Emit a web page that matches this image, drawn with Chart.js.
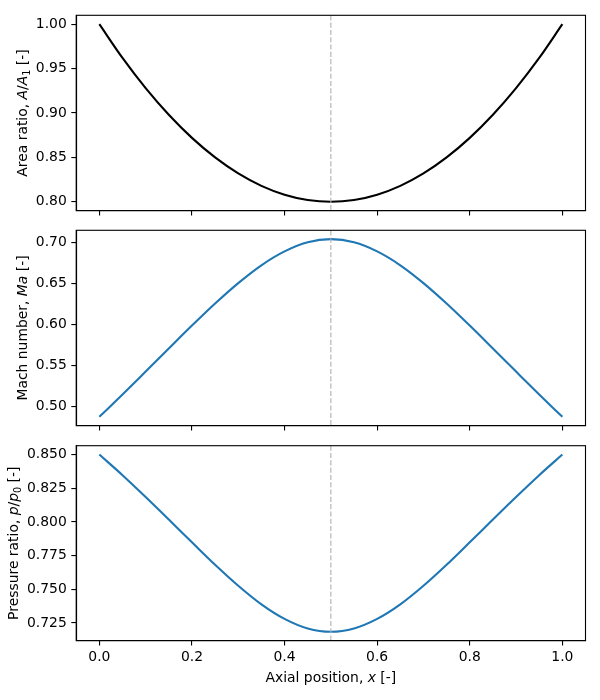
<!DOCTYPE html>
<html>
<head>
<meta charset="utf-8">
<script src="https://cdn.jsdelivr.net/npm/chart.js@4.4.1/dist/chart.umd.min.js"></script>
<style>
  html, body { margin: 0; padding: 0; background: #fff; }
  #wrap { position: relative; width: 600px; height: 700px; }
  #wrap canvas { position: absolute; left: 0; top: 0; }
</style>
</head>
<body>
<div id="wrap">
  <canvas id="area" width="600" height="700"></canvas>
  <canvas id="mach" width="600" height="700"></canvas>
  <canvas id="pres" width="600" height="700"></canvas>
</div>
<script>
// ---- data ----
const xPos = [0.00, 0.05, 0.10, 0.15, 0.20, 0.25, 0.30, 0.35, 0.40, 0.45, 0.50,
              0.55, 0.60, 0.65, 0.70, 0.75, 0.80, 0.85, 0.90, 0.95, 1.00];
const areaRatio = [1.000, 0.962, 0.928, 0.898, 0.872, 0.850, 0.832, 0.818, 0.808, 0.802, 0.800,
                   0.802, 0.808, 0.818, 0.832, 0.850, 0.872, 0.898, 0.928, 0.962, 1.000];
const machNumber = [0.4875, 0.5147, 0.5426, 0.5707, 0.5986, 0.6255, 0.6504, 0.6721, 0.6890, 0.7001, 0.7039,
                    0.7001, 0.6890, 0.6721, 0.6504, 0.6255, 0.5986, 0.5707, 0.5426, 0.5147, 0.4875];
const pressureRatio = [0.8500, 0.8347, 0.8185, 0.8018, 0.7849, 0.7682, 0.7526, 0.7388, 0.7280, 0.7209, 0.7184,
                       0.7209, 0.7280, 0.7388, 0.7526, 0.7682, 0.7849, 0.8018, 0.8185, 0.8347, 0.8500];
const throatX = 0.5;

const xTicks = [0.0, 0.2, 0.4, 0.6, 0.8, 1.0];
const areaTicks = [0.80, 0.85, 0.90, 0.95, 1.00];
const machTicks = [0.50, 0.55, 0.60, 0.65, 0.70];
const presTicks = [0.725, 0.750, 0.775, 0.800, 0.825, 0.850];

const FONT = 'DejaVu Sans';
const FS = 13.9;

// draws a label made of runs: {t: text, it: italic, sub: subscript}
function drawRuns(ctx, runs, cx, cy, rotated) {
  ctx.save();
  ctx.translate(cx, cy);
  if (rotated) ctx.rotate(-Math.PI / 2);
  ctx.fillStyle = '#000';
  ctx.textBaseline = 'alphabetic';
  ctx.textAlign = 'left';
  const fontOf = r => (r.it ? 'italic ' : '') + (r.sub ? FS * 0.7 : FS) + 'px "' + FONT + '"';
  let total = 0;
  runs.forEach(r => { ctx.font = fontOf(r); total += ctx.measureText(r.t).width; });
  let x = -total / 2;
  const base = FS * 0.36;
  runs.forEach(r => {
    ctx.font = fontOf(r);
    ctx.fillText(r.t, x, base + (r.sub ? FS * 0.2 : 0));
    x += ctx.measureText(r.t).width;
  });
  ctx.restore();
}

// frame, throat marker and axis titles
const framePlugin = {
  id: 'frame',
  afterDatasetsDraw(chart, args, opts) {
    const { ctx, chartArea: a } = chart;
    const px = chart.scales.x.getPixelForValue(throatX);
    ctx.save();
    ctx.strokeStyle = '#b0b0b0';
    ctx.lineWidth = 1.1;
    ctx.setLineDash([5.1, 2.2]);
    ctx.beginPath();
    ctx.moveTo(px, a.top);
    ctx.lineTo(px, a.bottom);
    ctx.stroke();
    ctx.setLineDash([]);
    ctx.strokeStyle = '#000';
    ctx.lineWidth = 1.1;
    ctx.strokeRect(a.left, a.top, a.right - a.left, a.bottom - a.top);
    ctx.restore();
    drawRuns(ctx, opts.yTitle, opts.yTitleX, (a.top + a.bottom) / 2, true);
    if (opts.xTitle) drawRuns(ctx, opts.xTitle, (a.left + a.right) / 2, 676.5, false);
  }
};

function panel(id, values, color, yMin, yMax, yTicks, digits, top, bottom, showX, yTitle, yTitleX, xTitle) {
  new Chart(document.getElementById(id), {
    type: 'line',
    data: {
      datasets: [{
        data: xPos.map((x, i) => ({ x: x, y: values[i] })),
        borderColor: color,
        borderWidth: 2.1,
        pointRadius: 0,
        fill: false,
        cubicInterpolationMode: 'monotone'
      }]
    },
    options: {
      responsive: false,
      animation: false,
      events: [],
      layout: { padding: { top: top, right: 14.5, left: 0, bottom: 0 } },
      plugins: {
        legend: { display: false },
        tooltip: { enabled: false },
        frame: { yTitle: yTitle, yTitleX: yTitleX, xTitle: xTitle }
      },
      scales: {
        x: {
          type: 'linear',
          min: -0.05,
          max: 1.05,
          afterBuildTicks: s => { s.ticks = xTicks.map(v => ({ value: v })); },
          afterFit: s => { s.height = 700 - bottom; },
          grid: { drawOnChartArea: false, drawTicks: true, tickLength: 4.9, color: '#000', lineWidth: 1.1 },
          border: { display: true, color: '#000', width: 1.1 },
          ticks: {
            display: showX,
            padding: 3,
            maxRotation: 0,
            color: '#000',
            font: { family: FONT, size: FS },
            callback: v => v.toFixed(1)
          }
        },
        y: {
          type: 'linear',
          min: yMin,
          max: yMax,
          afterBuildTicks: s => { s.ticks = yTicks.map(v => ({ value: v })); },
          afterFit: s => { s.width = 76.2; },
          grid: { drawOnChartArea: false, drawTicks: true, tickLength: 4.9, color: '#000', lineWidth: 1.1 },
          border: { display: true, color: '#000', width: 1.1 },
          ticks: {
            padding: 4.5,
            color: '#000',
            font: { family: FONT, size: FS },
            callback: v => v.toFixed(digits)
          }
        }
      }
    },
    plugins: [framePlugin]
  });
}

panel('area', areaRatio, '#000000', 0.79, 1.01, areaTicks, 2, 15.3, 210.7, false,
  [{ t: 'Area ratio, ' }, { t: 'A', it: true }, { t: '/' }, { t: 'A', it: true }, { t: '1', sub: true }, { t: ' [-]' }],
  22, null);

panel('mach', machNumber, '#1f77b4', 0.4767, 0.7147, machTicks, 2, 230.3, 425.7, false,
  [{ t: 'Mach number, ' }, { t: 'Ma', it: true }, { t: ' [-]' }],
  22, null);

panel('pres', pressureRatio, '#1f77b4', 0.7118, 0.8566, presTicks, 3, 445.7, 640.7, true,
  [{ t: 'Pressure ratio, ' }, { t: 'p', it: true }, { t: '/' }, { t: 'p', it: true }, { t: '0', sub: true }, { t: ' [-]' }],
  13, [{ t: 'Axial position, ' }, { t: 'x', it: true }, { t: ' [-]' }]);
</script>
</body>
</html>
